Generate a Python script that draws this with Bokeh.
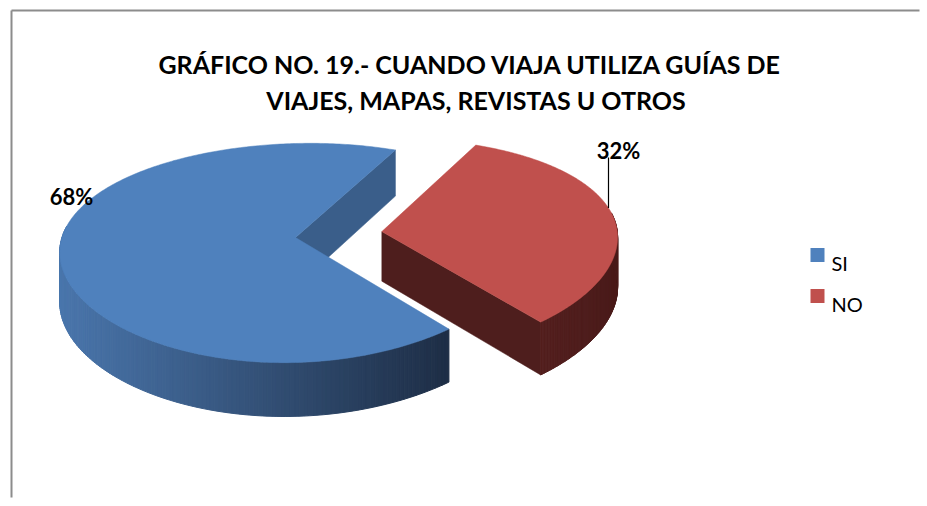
import numpy as np
from bokeh.plotting import figure
from bokeh.models import Range1d
from bokeh.embed import file_html
from bokeh.resources import INLINE
from bokeh.core.properties import value

# ---- data ----
categories = ["SI", "NO"]
values = [68, 32]
pct_labels = ["68%", "32%"]
title_lines = ["GRÁFICO NO. 19.- CUANDO VIAJA UTILIZA GUÍAS DE",
               "VIAJES, MAPAS, REVISTAS U OTROS"]
top_colors = ["#4F81BD", "#C0504D"]
cut_colors = ["#3A5E8A", "#4E1E1D"]
rim_left = ["#4A76AC", "#531F1E"]
rim_right = ["#1E2E46", "#4A1B1A"]
explode = [0.0, 0.37]

# ---- projection (pixel coordinates of page) ----
CX, CY = 295.0, 237.0
A, B = 235.0, 107.3
PX, PY = 0.08, 0.1416
K = 0.026      # slight tilt of the pie
START = 62.9   # degrees, where SI begins (counter-clockwise)


def proj(X, Z):
    x = CX + A * X / (1 - PX * Z)
    y = CY + B * Z / (1 - PY * Z) - K * (x - CX)
    return x, y


def thick(Z):
    return 49.7 + 4.14 * Z


def hex2rgb(h):
    h = h.lstrip("#")
    return np.array([int(h[i:i + 2], 16) for i in (0, 2, 4)], dtype=float)


def mix(c1, c2, t):
    c = hex2rgb(c1) * (1 - t) + hex2rgb(c2) * t
    return "#%02x%02x%02x" % tuple(int(round(v)) for v in c)


W, H = 920, 498
p = figure(width=W, height=H, output_backend="svg", toolbar_location=None,
           x_range=Range1d(0, W), y_range=Range1d(H, 0),
           x_axis_location=None, y_axis_location=None, min_border=0)
p.grid.visible = False
p.outline_line_color = None
p.background_fill_color = "white"
p.border_fill_color = "white"

# frame of the chart area: top and left edges only
p.segment(x0=[11, 11], y0=[10, 10], x1=[W - 1, 11], y1=[10, H - 1],
          line_color="#8C8C8C", line_width=2)

total = float(sum(values))
ang = START
slices = []
for i, v in enumerate(values):
    span = 360.0 * v / total
    slices.append((ang, ang + span))
    ang += span

for i, (a0, a1) in enumerate(slices):
    mid = np.radians((a0 + a1) / 2)
    ox, oz = explode[i] * np.cos(mid), -explode[i] * np.sin(mid)

    def pt(phi_deg, r=1.0):
        ph = np.radians(phi_deg)
        X = r * np.cos(ph) + ox
        Z = -r * np.sin(ph) + oz
        x, y = proj(X, Z)
        return x, y, thick(Z)

    cx0, cy0, ct0 = pt(a0, 0.0)
    # visible cut faces
    for edge in (a0, a1):
        nphi = edge - 90 if edge == a0 else edge + 90
        nz = -np.sin(np.radians(nphi))
        if nz > 0:
            rx, ry, rt = pt(edge)
            p.patch([cx0, rx, rx, cx0], [cy0, ry, ry + rt, cy0 + ct0],
                    fill_color=cut_colors[i], line_color=cut_colors[i], line_width=0.5)

    # outer side band (front part), drawn as strips for gradient
    phis = np.linspace(a0, a1, 240)
    strips_x, strips_y, strips_c = [], [], []
    for k in range(len(phis) - 1):
        pa, pb = phis[k], phis[k + 1]
        za = -np.sin(np.radians(pa)) + oz
        zb = -np.sin(np.radians(pb)) + oz
        if max(za, zb) < -0.15:
            continue
        xa, ya, ta = pt(pa)
        xb, yb, tb = pt(pb)
        strips_x.append([xa, xb, xb, xa])
        strips_y.append([ya, yb, yb + tb, ya + ta])
        strips_c.append((xa + xb) / 2)
    if strips_c:
        xmin, xmax = min(strips_c), max(strips_c)
        cols = [mix(rim_left[i], rim_right[i], (c - xmin) / max(xmax - xmin, 1)) for c in strips_c]
        p.patches(strips_x, strips_y, fill_color=cols, line_color=cols, line_width=1)

    # top face
    rim = [pt(ph) for ph in np.linspace(a0, a1, 300)]
    tx = [cx0] + [r[0] for r in rim]
    ty = [cy0] + [r[1] for r in rim]
    p.patch(tx, ty, fill_color=top_colors[i], line_color=top_colors[i], line_width=0.5)

    if i == 1:
        # leader line from the 32% label to the rim of the NO slice
        lx = 608.0
        best = None
        for ph in np.linspace(a0, a1, 2000):
            x, y, _ = pt(ph)
            if y < CY and (best is None or abs(x - lx) < abs(best[0] - lx)):
                best = (x, y)
        p.segment(x0=[lx], y0=[157], x1=[lx], y1=[best[1]], line_color="black", line_width=1.2)

# data labels
p.text(x=[71, 618], y=[196, 150], text=pct_labels, text_font=value("Lato"),
       text_font_style="bold", text_font_size="22px", text_align="center",
       text_baseline="alphabetic", text_color="black")

# title
p.text(x=[470, 475.5], y=[63, 99], text=title_lines, text_font=value("Lato"),
       text_font_style="bold", text_font_size="25px", text_align="center",
       text_baseline="alphabetic", text_color="black")

# legend
p.rect(x=[817, 817], y=[254.5, 295.5], width=14, height=14,
       fill_color=top_colors, line_color=None)
p.text(x=[831, 831], y=[262, 303], text=categories, text_font=value("Lato"),
       text_font_size="20px", text_align="left", text_baseline="alphabetic",
       text_color="black")

open("out.html", "w").write(file_html(p, INLINE))
